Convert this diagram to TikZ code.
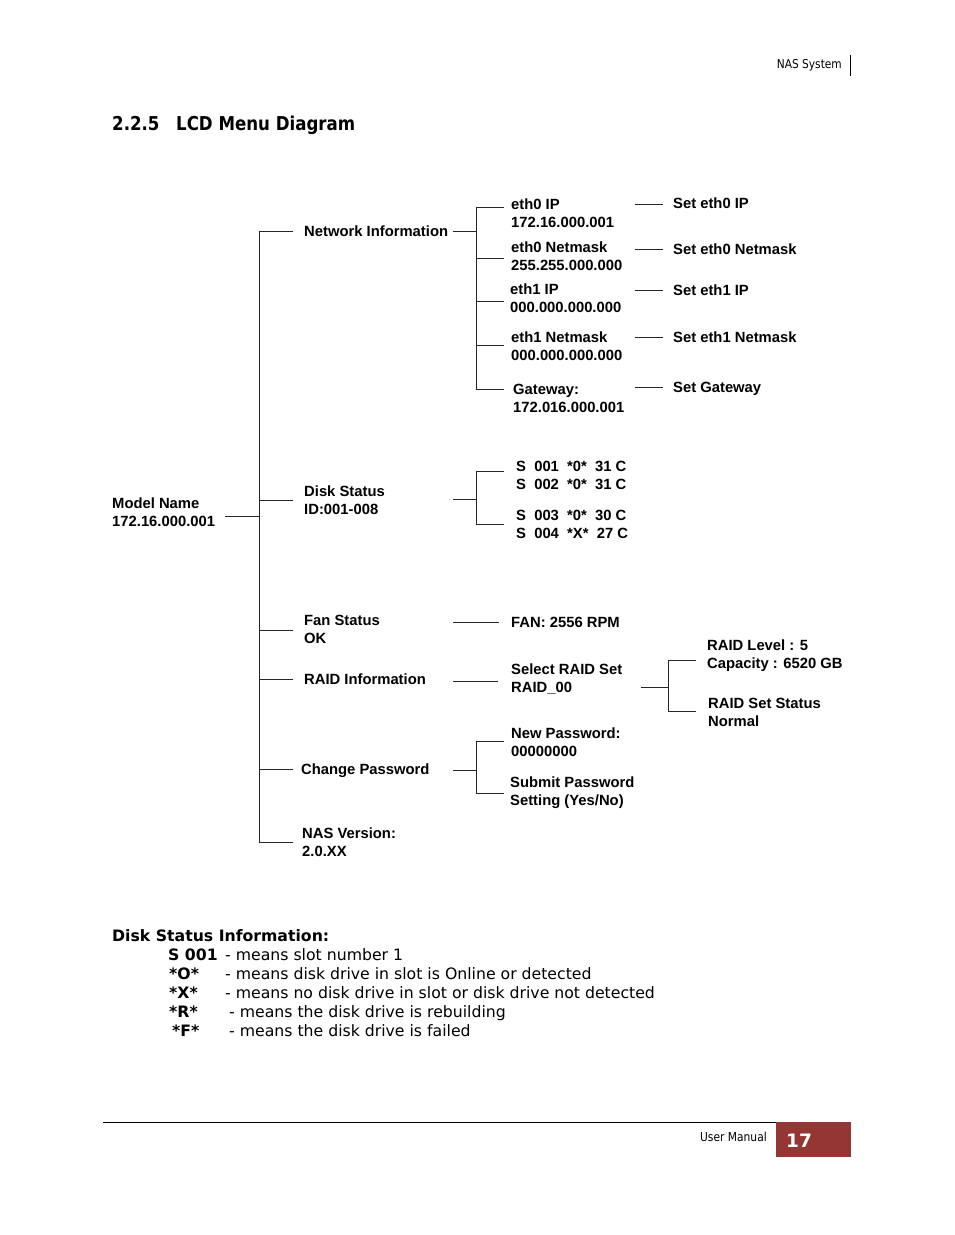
\documentclass[tikz,border=0pt]{standalone}
\usepackage{fontspec}
\setmainfont{Liberation Sans}
\newfontfamily\dvs{DejaVu Sans}
\newfontfamily\dvc[FakeStretch=0.87]{DejaVu Sans}
\definecolor{pagered}{HTML}{943634}
\newcommand\twoline[2]{\vtop{\baselineskip=18pt\hbox{#1}\hbox{#2}}}
\tikzset{
  lbl/.style={anchor=base west, inner sep=0pt, font=\fontsize{14.8}{18}\selectfont\bfseries},
  ln/.style={line width=1pt, black!85},
  legkey/.style={anchor=base west, inner sep=0pt, font=\dvs\fontsize{15.7}{19}\selectfont\bfseries},
  legtxt/.style={anchor=base west, inner sep=0pt, font=\dvs\fontsize{15.7}{19}\selectfont},
}
\begin{document}
\begin{tikzpicture}[x=1pt,y=-1pt]
\fill[white] (0,0) rectangle (954,1235);
\useasboundingbox (0,0) rectangle (954,1235);

% header
\node[anchor=base east, inner sep=0pt, font=\dvc\fontsize{12.2}{14}\selectfont] (hdr) at (842,68) {NAS System};
\coordinate (hv1) at (850,55); \coordinate (hv2) at (850,76);
\draw[line width=1pt] (hv1) -- (hv2);

% title
\node[anchor=base west, inner sep=0pt, font=\dvc\fontsize{19.1}{22}\selectfont\bfseries] (tnum) at (112,130) {2.2.5};
\node[anchor=base west, inner sep=0pt, font=\dvc\fontsize{19.1}{22}\selectfont\bfseries] (ttl) at (176,130) {LCD Menu Diagram};

% level 0 and 1
\node[lbl] (model) at (112,508.5) {\twoline{Model Name}{172.16.000.001}};
\node[lbl] (net)   at (304,236.5) {Network Information};
\node[lbl] (disk)  at (304,496.5) {\twoline{Disk Status}{ID:001-008}};
\node[lbl] (fan)   at (304,625.5) {\twoline{Fan Status}{OK}};
\node[lbl] (raid)  at (304,684.5) {RAID Information};
\node[lbl] (pwd)   at (301,774.5) {Change Password};
\node[lbl] (ver)   at (302,838.5) {\twoline{NAS Version:}{2.0.XX}};

% network submenu
\node[lbl] (eth0)  at (511,209.5) {\twoline{eth0 IP}{172.16.000.001}};
\node[lbl] (eth0m) at (511,252.5) {\twoline{eth0 Netmask}{255.255.000.000}};
\node[lbl] (eth1)  at (510,294.5) {\twoline{eth1 IP}{000.000.000.000}};
\node[lbl] (eth1m) at (511,342.5) {\twoline{eth1 Netmask}{000.000.000.000}};
\node[lbl] (gw)    at (513,394.5) {\twoline{Gateway:}{172.016.000.001}};
\node[lbl] (set0)  at (673,208.5) {Set eth0 IP};
\node[lbl] (set0m) at (673,254.5) {Set eth0 Netmask};
\node[lbl] (set1)  at (673,295.5) {Set eth1 IP};
\node[lbl] (set1m) at (673,342.5) {Set eth1 Netmask};
\node[lbl] (setgw) at (673,392.5) {Set Gateway};

% disk submenu
\node[lbl] (s12) at (516,471.5) {\twoline{S\ \ 001\ \ *0*\ \ 31 C}{S\ \ 002\ \ *0*\ \ 31 C}};
\node[lbl] (s34) at (516,520.5) {\twoline{S\ \ 003\ \ *0*\ \ 30 C}{S\ \ 004\ \ *X*\ \ 27 C}};

% fan / raid
\node[lbl] (fanv) at (511,627.5) {FAN: 2556 RPM};
\node[lbl] (sel)  at (511,674.5) {\twoline{Select RAID Set}{RAID\_00}};
\node[lbl] (lvl)  at (707,650.5) {\twoline{RAID Level : 5}{Capacity : 6520 GB}};
\node[lbl] (rst)  at (708,708.5) {\twoline{RAID Set Status}{Normal}};

% password
\node[lbl] (newp) at (511,738.5) {\twoline{New Password:}{00000000}};
\node[lbl] (subp) at (510,787.5) {\twoline{Submit Password}{Setting (Yes/No)}};

% connector coordinates
\coordinate (m0) at (225,516); \coordinate (m1) at (259,516);
\coordinate (tt) at (259,231); \coordinate (tb) at (259,842);
\foreach \n/\y in {bnet/231,bdisk/500,bfan/630,braid/679,bpwd/769,bver/842}{
  \coordinate (\n a) at (259,\y); \coordinate (\n b) at (293,\y);
}
\draw[ln] (m0) -- (m1);
\draw[ln] (tt) -- (tb);
\foreach \n in {bnet,bdisk,bfan,braid,bpwd,bver}{ \draw[ln] (\n a) -- (\n b); }

% network tree
\coordinate (n0) at (453,231); \coordinate (n1) at (476,231);
\coordinate (nt) at (476,207); \coordinate (nb) at (476,389);
\draw[ln] (n0) -- (n1);
\draw[ln] (nt) -- (nb);
\foreach \n/\y in {e0/207,e0m/258,e1/301,e1m/345,egw/389}{
  \coordinate (\n a) at (476,\y); \coordinate (\n b) at (504,\y);
  \draw[ln] (\n a) -- (\n b);
}
\foreach \n/\y in {s0/204,s0m/249,s1/290,s1m/337,sgw/387}{
  \coordinate (\n a) at (635,\y); \coordinate (\n b) at (663,\y);
  \draw[ln] (\n a) -- (\n b);
}

% disk tree
\coordinate (d0) at (453,499); \coordinate (d1) at (476,499);
\coordinate (dt) at (476,471); \coordinate (db) at (476,524);
\coordinate (dte) at (504,471); \coordinate (dbe) at (504,524);
\draw[ln] (d0) -- (d1);
\draw[ln] (dte) -- (dt) -- (db) -- (dbe);

% fan
\coordinate (f0) at (453,622); \coordinate (f1) at (499,622);
\draw[ln] (f0) -- (f1);

% raid
\coordinate (r0) at (453,681); \coordinate (r1) at (498,681);
\draw[ln] (r0) -- (r1);
\coordinate (q0) at (641,687); \coordinate (q1) at (668,687);
\coordinate (qt) at (668,660); \coordinate (qb) at (668,711);
\coordinate (qte) at (696,660); \coordinate (qbe) at (696,711);
\draw[ln] (q0) -- (q1);
\draw[ln] (qte) -- (qt) -- (qb) -- (qbe);

% password
\coordinate (p0) at (453,770); \coordinate (p1) at (476,770);
\coordinate (pt) at (476,741); \coordinate (pb) at (476,793);
\coordinate (pte) at (504,741); \coordinate (pbe) at (504,793);
\draw[ln] (p0) -- (p1);
\draw[ln] (pte) -- (pt) -- (pb) -- (pbe);

% legend
\node[legkey] (leg) at (112,941) {Disk Status Information:};
\node[legkey] (k1) at (168,960) {S 001};
\node[legtxt] (t1) at (225,960) {- means slot number 1};
\node[legkey] (k2) at (169,979) {*O*};
\node[legtxt] (t2) at (225,979) {- means disk drive in slot is Online or detected};
\node[legkey] (k3) at (169,998) {*X*};
\node[legtxt] (t3) at (225,998) {- means no disk drive in slot or disk drive not detected};
\node[legkey] (k4) at (169,1017) {*R*};
\node[legtxt] (t4) at (229,1017) {- means the disk drive is rebuilding};
\node[legkey] (k5) at (172,1036) {*F*};
\node[legtxt] (t5) at (229,1036) {- means the disk drive is failed};

% footer
\coordinate (fl0) at (103,1122); \coordinate (fl1) at (851,1122);
\draw[line width=1pt] (fl0) -- (fl1);
\fill[pagered] (776,1122) rectangle (851,1157);
\node[anchor=base east, inner sep=0pt, font=\dvc\fontsize{12.3}{14}\selectfont] (um) at (767,1141.5) {User Manual};
\node[anchor=base west, inner sep=0pt, text=white, font=\dvs\fontsize{18.5}{22}\selectfont\bfseries] (pg) at (786,1147) {17};
\end{tikzpicture}
\end{document}
